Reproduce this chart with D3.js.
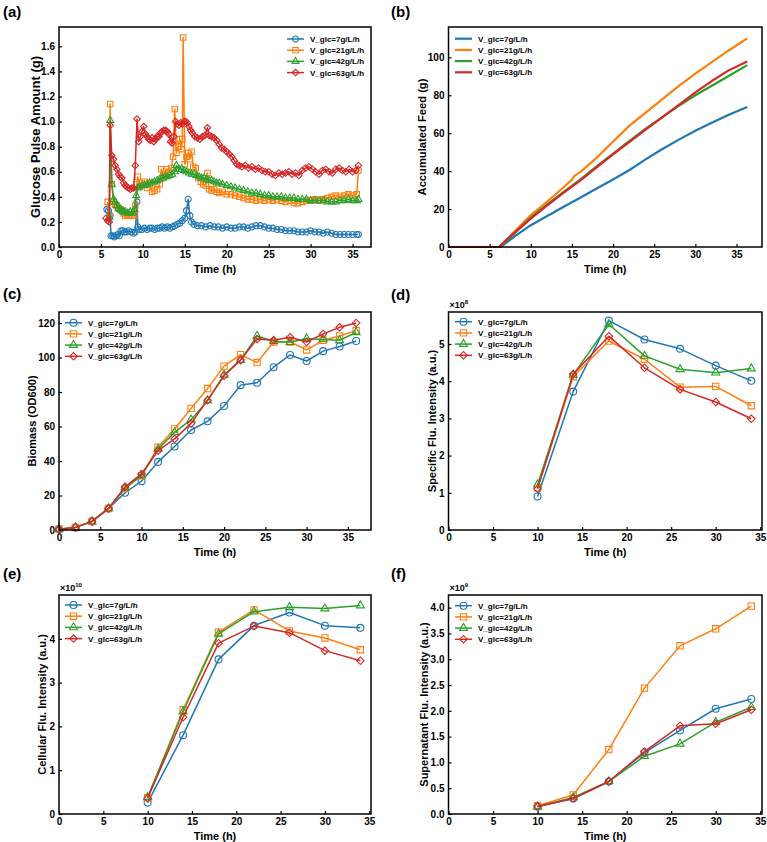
<!DOCTYPE html>
<html>
<head>
<meta charset="utf-8">
<script src="https://cdn.jsdelivr.net/npm/d3@7"></script>
<style>
body { margin: 0; background: #fff; }
svg text { font-family: "Liberation Sans", Arial, sans-serif; font-weight: bold; fill: #000; }
</style>
</head>
<body>
<svg id="fig" width="767" height="842"></svg>
<script>
// legend names, colours and markers for the 4 feed rates
const seriesNames = ["V_glc=7g/L/h", "V_glc=21g/L/h", "V_glc=42g/L/h", "V_glc=63g/L/h"];
const colors = ["#1f77b4", "#ff7f0e", "#2ca02c", "#d62728"];
const markers = ["circle", "square", "triangle", "diamond"];

// (a) glucose pulse amount, [time h, g]
const pulse7 = [[5.7,.30],[5.9,.29],[6.1,.25],[6.2,.09],[6.4,.09],[6.6,.08],[6.8,.09],[7.0,.10],[7.2,.09],[7.4,.13],[7.6,.13],[7.8,.12],[8.0,.12],[8.3,.13],[8.6,.12],[8.9,.11],[9.1,.12],[9.3,.36],[9.4,.16],[9.6,.14],[9.9,.14],[10.2,.15],[10.5,.14],[10.8,.15],[11.1,.15],[11.4,.14],[11.7,.15],[12.0,.15],[12.3,.16],[12.6,.15],[12.9,.16],[13.2,.15],[13.5,.16],[13.8,.17],[14.1,.18],[14.4,.19],[14.7,.21],[15.0,.23],[15.2,.29],[15.4,.38],[15.6,.25],[15.8,.20],[16.1,.18],[16.5,.17],[17.0,.17],[17.5,.16],[18.0,.17],[18.5,.16],[19.0,.16],[19.5,.15],[20.0,.16],[20.5,.15],[21.0,.15],[21.5,.16],[22.0,.16],[22.5,.15],[23.0,.16],[23.5,.17],[24.0,.17],[24.5,.16],[25.0,.15],[25.5,.15],[26.0,.14],[26.5,.14],[27.0,.13],[27.5,.13],[28.0,.13],[28.5,.12],[29.0,.12],[29.5,.12],[30.0,.13],[30.5,.12],[31.0,.12],[31.5,.11],[32.0,.12],[32.5,.11],[33.0,.10],[33.5,.10],[34.0,.10],[34.5,.10],[35.0,.10],[35.5,.10],[35.7,.10]];
const pulse21 = [[5.8,.36],[6.0,.24],[6.1,1.14],[6.3,.50],[6.5,.36],[6.7,.34],[6.9,.33],[7.1,.31],[7.3,.30],[7.5,.29],[7.7,.27],[7.9,.25],[8.1,.26],[8.4,.25],[8.7,.26],[9.0,.25],[9.1,.33],[9.3,.50],[9.4,.56],[9.6,.48],[9.9,.51],[10.2,.52],[10.5,.47],[10.8,.50],[11.1,.44],[11.4,.45],[11.7,.46],[12.0,.50],[12.2,.62],[12.5,.55],[12.8,.62],[13.1,.60],[13.4,.63],[13.6,.72],[13.8,1.10],[14.0,.75],[14.2,.80],[14.4,.86],[14.6,.78],[14.7,.86],[14.8,1.67],[15.0,.66],[15.2,.72],[15.4,.75],[15.6,.70],[15.8,.76],[16.0,.64],[16.3,.63],[16.6,.55],[16.9,.52],[17.2,.50],[17.5,.49],[17.7,.59],[17.9,.46],[18.2,.45],[18.5,.46],[18.8,.44],[19.1,.43],[19.5,.44],[20.0,.42],[20.5,.42],[21.0,.41],[21.5,.40],[22.0,.39],[22.5,.38],[23.0,.38],[23.5,.37],[24.0,.38],[24.5,.37],[25.0,.38],[25.5,.37],[26.0,.38],[26.5,.37],[27.0,.36],[27.5,.37],[28.0,.35],[28.5,.35],[29.0,.36],[29.5,.37],[30.0,.37],[30.5,.38],[31.0,.37],[31.5,.38],[32.0,.39],[32.5,.40],[33.0,.41],[33.5,.40],[34.0,.41],[34.5,.42],[35.0,.41],[35.5,.42],[35.7,.61]];
const pulse42 = [[6.0,.24],[6.1,1.01],[6.3,.50],[6.5,.38],[6.7,.36],[6.9,.33],[7.1,.31],[7.3,.30],[7.5,.29],[7.7,.28],[7.9,.28],[8.2,.27],[8.5,.28],[8.8,.27],[9.0,.30],[9.2,.41],[9.4,.47],[9.6,.48],[9.9,.49],[10.2,.49],[10.5,.50],[10.8,.51],[11.1,.51],[11.4,.52],[11.7,.53],[12.0,.54],[12.3,.55],[12.6,.56],[12.9,.56],[13.2,.57],[13.5,.58],[13.8,.60],[14.0,.65],[14.3,.62],[14.6,.62],[14.9,.61],[15.2,.60],[15.5,.59],[15.8,.58],[16.1,.58],[16.4,.57],[16.7,.56],[17.0,.55],[17.3,.55],[17.6,.54],[17.9,.53],[18.2,.53],[18.5,.52],[18.8,.51],[19.1,.51],[19.5,.50],[20.0,.49],[20.5,.48],[21.0,.47],[21.5,.46],[22.0,.45],[22.5,.44],[23.0,.43],[23.5,.43],[24.0,.42],[24.5,.41],[25.0,.41],[25.5,.40],[26.0,.40],[26.5,.40],[27.0,.39],[27.5,.39],[28.0,.39],[28.5,.38],[29.0,.38],[29.5,.38],[30.0,.37],[30.5,.37],[31.0,.37],[31.5,.37],[32.0,.36],[32.5,.36],[33.0,.36],[33.5,.37],[34.0,.37],[34.5,.38],[35.0,.37],[35.5,.37],[35.7,.38]];
const pulse63 = [[5.6,.23],[5.8,.21],[6.0,.20],[6.1,.97],[6.3,.73],[6.5,.70],[6.7,.65],[6.9,.62],[7.1,.58],[7.3,.56],[7.5,.55],[7.7,.51],[7.9,.49],[8.1,.48],[8.3,.47],[8.5,.46],[8.7,.47],[8.9,.47],[9.1,.65],[9.3,1.02],[9.5,.84],[9.7,.88],[9.9,.92],[10.1,.96],[10.3,.90],[10.5,.88],[10.7,.86],[10.9,.85],[11.1,.87],[11.3,.84],[11.5,.86],[11.7,.88],[11.9,.88],[12.1,.91],[12.3,.92],[12.5,.93],[12.7,.93],[12.9,.92],[13.1,.90],[13.3,.84],[13.5,.83],[13.7,.88],[13.9,1.00],[14.1,.98],[14.3,.97],[14.5,.99],[14.7,.98],[14.9,1.00],[15.1,1.00],[15.3,.99],[15.5,.96],[15.7,.93],[15.9,.91],[16.2,.88],[16.5,.87],[16.8,.86],[17.1,.88],[17.4,.89],[17.7,.95],[17.9,.89],[18.2,.88],[18.5,.87],[18.8,.85],[19.1,.82],[19.4,.79],[19.7,.78],[20.0,.76],[20.3,.74],[20.6,.72],[20.9,.69],[21.2,.66],[21.5,.65],[21.8,.64],[22.2,.65],[22.6,.63],[23.0,.64],[23.4,.62],[23.8,.63],[24.2,.61],[24.6,.60],[25.0,.60],[25.4,.58],[25.8,.57],[26.2,.59],[26.6,.58],[27.0,.59],[27.4,.60],[27.8,.58],[28.2,.59],[28.6,.57],[29.0,.61],[29.4,.63],[29.8,.64],[30.2,.62],[30.6,.60],[31.0,.58],[31.4,.61],[31.8,.62],[32.2,.60],[32.6,.59],[33.0,.62],[33.4,.63],[33.8,.61],[34.2,.60],[34.6,.62],[35.0,.60],[35.4,.61],[35.7,.65]];

// (b) accumulated feed, [time h, g]
const feed7 = [[0,0],[6.3,0],[8,5.5],[10,11.5],[12,16.3],[14,21.2],[16,26],[18,30.8],[20,35.6],[22,40.6],[24,46.3],[26,51.7],[28,56.6],[30,61.3],[32,65.5],[34,69.6],[36.3,73.8]];
const feed21 = [[0,0],[6.2,0],[8,8],[10,16.8],[12,24],[14,31.5],[15,35.5],[15.3,37.5],[16,39.5],[18,47],[20,55.6],[22,64],[24,71],[26,78],[28,85],[30,91.4],[32,97.5],[34,103.5],[36.3,110]];
const feed42 = [[0,0],[6.2,0],[8,7],[10,15.5],[12,22.5],[14,29],[16,35.5],[18,42.5],[20,49.3],[22,56],[24,62.5],[26,68.5],[28,74.5],[30,80],[32,85],[34,90],[36.3,95.9]];
const feed63 = [[0,0],[6.1,0],[8,7.5],[10,15],[12,22],[14,28.7],[16,35],[18,42],[20,48.8],[22,55.4],[24,62],[26,68.5],[28,75],[30,81.5],[32,87.5],[34,93],[36.3,97.8]];

// (c) biomass OD600, sampled every 2 h
const bioTime = [0,2,4,6,8,10,12,14,16,18,20,22,24,26,28,30,32,34,36];
const bio7  = [0.5,1.5,5,12.5,21.6,28.3,39.5,48.4,58,63,71.9,84,85.4,94.4,101.5,98,103.7,106.4,109.6];
const bio21 = [0.5,1.5,5,12.5,24,31.5,48,58.6,70.5,82,95,101.7,97.1,109,109,104.4,110,112.5,115.6];
const bio42 = [0.5,1.5,5,12.5,24.5,31.5,47,56.6,64,75,90,98.5,112.5,109.5,108.9,111,110.5,110,114.6];
const bio63 = [0.5,1.5,5,12.5,25,32.5,46,52.8,61.8,75.3,89.4,98.5,110.8,110,111.8,109,113.7,117.5,120];

// (d)(e)(f) fluorescence, sampled every 4 h
const fluTime = [10,14,18,22,26,30,34];
const spec7  = [0.90,3.72,5.63,5.12,4.87,4.42,4.01];   // x1e8
const spec21 = [1.13,4.12,5.08,4.59,3.84,3.86,3.34];
const spec42 = [1.22,4.17,5.53,4.68,4.32,4.23,4.34];
const spec63 = [1.11,4.19,5.21,4.36,3.78,3.44,2.99];
const cell7  = [0.26,1.80,3.53,4.30,4.60,4.30,4.25];   // x1e10
const cell21 = [0.37,2.38,4.15,4.66,4.18,4.02,3.75];
const cell42 = [0.38,2.34,4.11,4.62,4.72,4.69,4.76];
const cell63 = [0.36,2.21,3.90,4.29,4.14,3.73,3.50];
const sup7  = [0.14,0.30,0.63,1.19,1.62,2.04,2.23];    // x1e9
const sup21 = [0.16,0.37,1.25,2.44,3.26,3.59,4.03];
const sup42 = [0.14,0.32,0.63,1.12,1.36,1.78,2.07];
const sup63 = [0.15,0.30,0.63,1.21,1.71,1.75,2.02];

const xTicks = [0,5,10,15,20,25,30,35];

const svg = d3.select("#fig");

function zip(t, v) { return t.map((d, i) => [d, v[i]]); }

// маркеры: k - масштаб площади
function symbolPath(kind, k) {
  if (kind == "circle") return d3.symbol(d3.symbolCircle, 38 * k)();
  if (kind == "square") return d3.symbol(d3.symbolSquare, 40 * k)();
  if (kind == "triangle") return d3.symbol(d3.symbolTriangle, 28 * k)();
  return d3.symbol(d3.symbolSquare, 28 * k)();
}
function symbolRotate(kind) { return kind == "diamond" ? " rotate(45)" : ""; }

function drawPanel(p) {
  const g = svg.append("g");
  const x = d3.scaleLinear().domain(p.xDom).range([p.left, p.right]);
  const y = d3.scaleLinear().domain(p.yDom).range([p.bottom, p.top]);
  const k = p.markerScale || 1;

  // оси
  g.append("g")
    .attr("transform", `translate(0, ${p.bottom})`)
    .call(d3.axisBottom(x).tickValues(xTicks).tickSizeInner(-3).tickSizeOuter(0).tickPadding(4).tickFormat(d3.format("d")));
  g.append("g")
    .attr("transform", `translate(${p.left}, 0)`)
    .call(d3.axisLeft(y).tickValues(p.yTicks).tickSizeInner(-3).tickSizeOuter(0).tickPadding(4).tickFormat(d3.format(p.yFmt)));
  g.selectAll(".domain").remove();
  g.selectAll(".tick line").attr("stroke", "#000").attr("stroke-width", 1.2);
  g.selectAll(".tick text").style("font-size", "10px").style("font-family", "'Liberation Sans', Arial, sans-serif").style("font-weight", "bold");

  // линии и маркеры
  p.series.forEach((s, i) => {
    g.append("path")
      .datum(s)
      .attr("fill", "none")
      .attr("stroke", colors[i])
      .attr("stroke-width", p.lineWidth)
      .attr("stroke-linejoin", "round")
      .attr("d", d3.line().x(d => x(d[0])).y(d => y(d[1])));
    if (p.markers) {
      g.selectAll(null)
        .data(s)
        .enter()
        .append("path")
        .attr("d", symbolPath(markers[i], k))
        .attr("transform", d => `translate(${x(d[0])}, ${y(d[1])})` + symbolRotate(markers[i]))
        .attr("fill", "none")
        .attr("stroke", colors[i])
        .attr("stroke-width", 1.1);
    }
  });

  // рамка
  g.append("rect")
    .attr("x", p.left).attr("y", p.top)
    .attr("width", p.right - p.left).attr("height", p.bottom - p.top)
    .attr("fill", "none").attr("stroke", "#000").attr("stroke-width", 1.5);

  // легенда
  seriesNames.forEach((name, i) => {
    const ly = p.legY + i * 11.2;
    g.append("line")
      .attr("x1", p.legX).attr("x2", p.legX + 17)
      .attr("y1", ly).attr("y2", ly)
      .attr("stroke", colors[i]).attr("stroke-width", p.lineWidth);
    if (p.markers) {
      g.append("path")
        .attr("d", symbolPath(markers[i], k))
        .attr("transform", `translate(${p.legX + 8.5}, ${ly})` + symbolRotate(markers[i]))
        .attr("fill", "none").attr("stroke", colors[i]).attr("stroke-width", 1.1);
    }
    g.append("text")
      .attr("x", p.legX + 23).attr("y", ly + 3)
      .style("font-size", "8px")
      .text(name);
  });

  // подписи осей
  g.append("text")
    .attr("x", (p.left + p.right) / 2).attr("y", p.bottom + 26)
    .attr("text-anchor", "middle").style("font-size", "11px")
    .text("Time (h)");
  g.append("text")
    .attr("transform", `translate(${p.yTitleX}, ${(p.top + p.bottom) / 2}) rotate(-90)`)
    .attr("text-anchor", "middle").attr("dy", "0.35em").style("font-size", p.yTitleSize + "px")
    .text(p.yTitle);

  g.append("text")
    .attr("x", p.tagX).attr("y", p.tagY)
    .style("font-size", "15px")
    .text(p.tag);

  if (p.power) {
    const t = g.append("text")
      .attr("x", p.left + 1).attr("y", p.top - 4)
      .style("font-size", "9px");
    t.append("tspan").text("×10");
    t.append("tspan").attr("dy", -4).style("font-size", "6px").text(p.power);
  }
}

const col1 = {left: 59, right: 371};
const col2 = {left: 448.5, right: 762};

drawPanel({...col1, top: 27, bottom: 247, xDom: [0, 37.2], yDom: [0, 1.754],
  yTicks: [0, .2, .4, .6, .8, 1.0, 1.2, 1.4, 1.6], yFmt: ".1f",
  series: [pulse7, pulse21, pulse42, pulse63], markers: true, markerScale: 0.75, lineWidth: 1.5,
  legX: 287, legY: 39, yTitle: "Glucose Pulse Amount (g)", yTitleSize: 13, yTitleX: 35, tag: "(a)", tagX: 3, tagY: 17});

drawPanel({...col2, top: 27, bottom: 247, xDom: [0, 38.1], yDom: [0, 116],
  yTicks: [0, 20, 40, 60, 80, 100], yFmt: "d",
  series: [feed7, feed21, feed42, feed63], markers: false, lineWidth: 2.2,
  legX: 455, legY: 38.7, yTitle: "Accumulated Feed (g)", yTitleSize: 11.2, yTitleX: 422, tag: "(b)", tagX: 391, tagY: 17});

drawPanel({...col1, top: 312, bottom: 530, xDom: [0, 37.8], yDom: [0, 126.4],
  yTicks: [0, 20, 40, 60, 80, 100, 120], yFmt: "d",
  series: [zip(bioTime, bio7), zip(bioTime, bio21), zip(bioTime, bio42), zip(bioTime, bio63)], markers: true, lineWidth: 1.5,
  legX: 65, legY: 322.7, yTitle: "Biomass (OD600)", yTitleSize: 11, yTitleX: 32, tag: "(c)", tagX: 3, tagY: 299});

drawPanel({...col2, top: 312, bottom: 530, xDom: [0, 35.2], yDom: [0, 5.86],
  yTicks: [0, 1, 2, 3, 4, 5], yFmt: "d",
  series: [zip(fluTime, spec7), zip(fluTime, spec21), zip(fluTime, spec42), zip(fluTime, spec63)], markers: true, lineWidth: 1.5,
  legX: 455, legY: 321.7, yTitle: "Specific Flu. Intensity (a.u.)", yTitleSize: 11, yTitleX: 432, tag: "(d)", tagX: 391, tagY: 300, power: "8"});

drawPanel({...col1, top: 595, bottom: 814, xDom: [0, 35.2], yDom: [0, 5.0],
  yTicks: [0, 1, 2, 3, 4], yFmt: "d",
  series: [zip(fluTime, cell7), zip(fluTime, cell21), zip(fluTime, cell42), zip(fluTime, cell63)], markers: true, lineWidth: 1.5,
  legX: 65, legY: 605, yTitle: "Cellular Flu. Intensity (a.u.)", yTitleSize: 11, yTitleX: 42, tag: "(e)", tagX: 3, tagY: 579, power: "10"});

drawPanel({...col2, top: 595, bottom: 814, xDom: [0, 35.2], yDom: [0, 4.245],
  yTicks: [0, .5, 1, 1.5, 2, 2.5, 3, 3.5, 4], yFmt: ".1f",
  series: [zip(fluTime, sup7), zip(fluTime, sup21), zip(fluTime, sup42), zip(fluTime, sup63)], markers: true, lineWidth: 1.5,
  legX: 455, legY: 605.7, yTitle: "Supernatant Flu. Intensity (a.u.)", yTitleSize: 11, yTitleX: 424, tag: "(f)", tagX: 391, tagY: 579, power: "9"});
</script>
</body>
</html>
